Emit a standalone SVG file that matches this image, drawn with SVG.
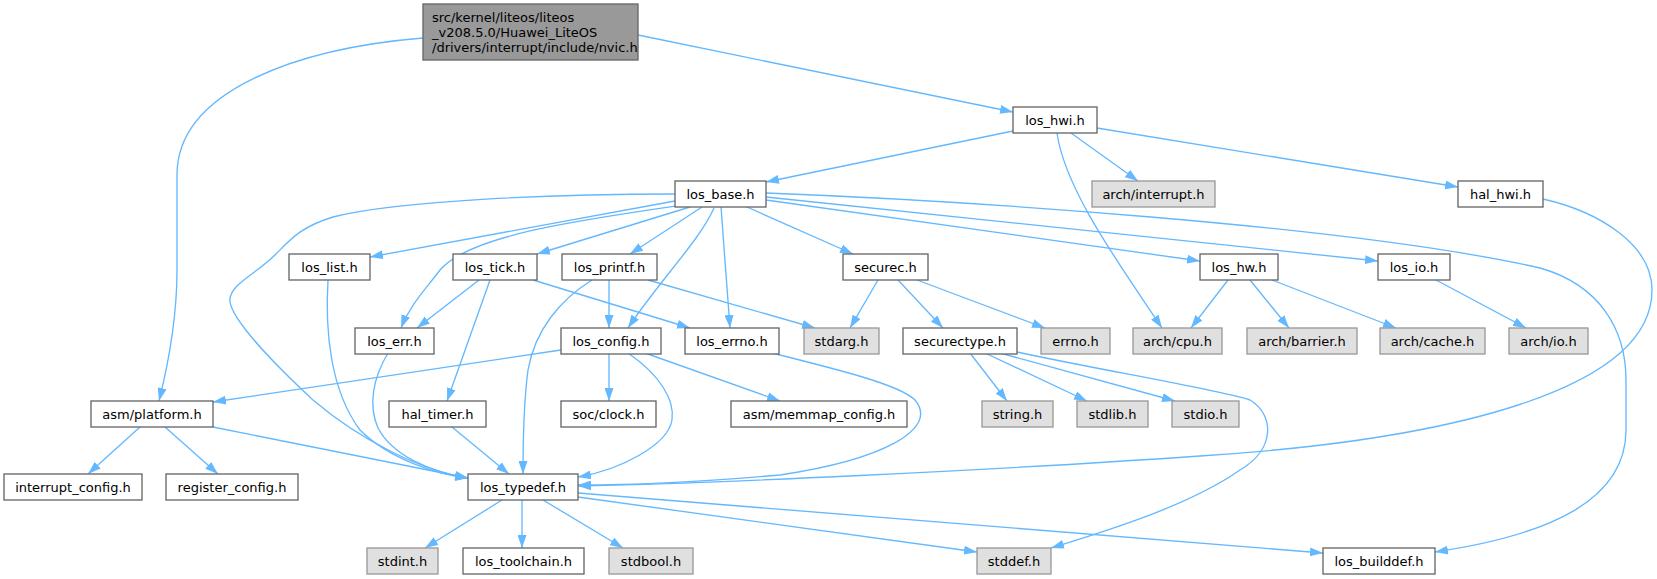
<svg xmlns="http://www.w3.org/2000/svg" width="1657" height="579" viewBox="0 0 1657 579">
<defs>
<marker id="ah" viewBox="0 0 13 9" refX="13" refY="4.5" markerWidth="13" markerHeight="9" markerUnits="userSpaceOnUse" orient="auto">
<path d="M0,0 L13,4.5 L0,9 z" fill="#63b8ff"/>
</marker>
<style>
.n rect{fill:#ffffff;stroke:#666666;stroke-width:1.33}
.g rect{fill:#e0e0e0;stroke:#999999;stroke-width:1.33}
.r rect{fill:#999999;stroke:#666666;stroke-width:1.33}
text{font-family:"DejaVu Sans","Liberation Sans",sans-serif;font-size:13px;fill:#000000}
.c{text-anchor:middle}
#edges path{fill:none;stroke:#63b8ff;stroke-width:1.33;marker-end:url(#ah)}
</style>
</defs>
<rect width="1657" height="579" fill="#ffffff"/>
<g id="edges">
<path d="M638,35 L1013,112"/>
<path d="M423,38 C300,48 177,90 177,175 L177,270 C177,320 168,365 159,401"/>
<path d="M1013,131 L766,182"/>
<path d="M1071,133 L1138,181"/>
<path d="M1097,128 L1458,187"/>
<path d="M1057,133 C1065,190 1120,265 1162,328"/>
<path d="M1543,199 C1600,212 1652,245 1652,290 C1652,390 1450,440 1200,456 C1000,470 700,484 578,486"/>
<path d="M675,201 L370,257"/>
<path d="M690,207 L537,254"/>
<path d="M683,205 C580,220 470,235 440,270 C425,290 410,305 401,328"/>
<path d="M702,207 L630,254"/>
<path d="M714,208 C700,240 660,280 628,328"/>
<path d="M721,207 L730,328"/>
<path d="M747,207 L853,254"/>
<path d="M766,200 L1200,261"/>
<path d="M766,197 L1378,261"/>
<path d="M766,193 C950,200 1350,225 1540,268 C1600,285 1626,330 1626,380 L1626,430 C1626,500 1550,535 1435,552"/>
<path d="M675,194 C560,194 400,200 333,217 C300,227 290,240 275,255 C255,275 228,285 230,302 C233,320 270,360 313,400 C360,440 420,470 468,478"/>
<path d="M328,280 C325,330 330,390 360,430 C390,460 440,475 468,478"/>
<path d="M388,353 C373,378 368,405 378,428 C392,455 430,472 468,478"/>
<path d="M213,427 L468,478"/>
<path d="M452,427 L509,474"/>
<path d="M592,280 C560,300 535,330 528,370 C524,400 523,430 523,474"/>
<path d="M628,353 C660,375 675,400 672,420 C668,445 620,470 578,477"/>
<path d="M772,353 C840,370 900,385 915,400 C940,430 880,460 780,475 C700,482 640,485 578,485"/>
<path d="M561,350 L213,402"/>
<path d="M609,353 L609,401"/>
<path d="M645,353 L780,401"/>
<path d="M609,280 L609,328"/>
<path d="M648,280 L815,328"/>
<path d="M479,280 L417,328"/>
<path d="M533,280 L690,328"/>
<path d="M490,280 L447,401"/>
<path d="M878,280 L850,328"/>
<path d="M898,280 L943,328"/>
<path d="M917,280 L1045,328"/>
<path d="M970,353 L1007,401"/>
<path d="M985,353 L1087,401"/>
<path d="M1000,353 L1175,401"/>
<path d="M1017,352 C1100,370 1220,390 1250,400 C1275,415 1275,450 1240,470 C1190,505 1110,530 1051,548"/>
<path d="M1228,280 L1191,328"/>
<path d="M1250,280 L1289,328"/>
<path d="M1272,280 L1396,328"/>
<path d="M1436,280 L1526,328"/>
<path d="M140,427 L88,474"/>
<path d="M165,427 L218,474"/>
<path d="M502,500 L425,548"/>
<path d="M522,500 L522,548"/>
<path d="M543,500 L623,548"/>
<path d="M578,497 L977,552"/>
<path d="M578,493 L1323,553"/>
</g>
<g id="node_root" class="r"><rect x="423" y="4" width="215" height="56"/><text x="432" y="22">src/kernel/liteos/liteos</text><text x="432" y="37">_v208.5.0/Huawei_LiteOS</text><text x="432" y="52">/drivers/interrupt/include/nvic.h</text></g>
<g id="node_los_hwi" class="n"><rect x="1013" y="107" width="84" height="26"/><text class="c" x="1055" y="124.5">los_hwi.h</text></g>
<g id="node_los_base" class="n"><rect x="675" y="181" width="91" height="26"/><text class="c" x="720.5" y="198.5">los_base.h</text></g>
<g id="node_arch_interrupt" class="g"><rect x="1092" y="181" width="123" height="26"/><text class="c" x="1153.5" y="198.5">arch/interrupt.h</text></g>
<g id="node_hal_hwi" class="n"><rect x="1458" y="181" width="85" height="26"/><text class="c" x="1500.5" y="198.5">hal_hwi.h</text></g>
<g id="node_los_list" class="n"><rect x="289" y="254" width="81" height="26"/><text class="c" x="329.5" y="271.5">los_list.h</text></g>
<g id="node_los_tick" class="n"><rect x="453" y="254" width="84" height="26"/><text class="c" x="495" y="271.5">los_tick.h</text></g>
<g id="node_los_printf" class="n"><rect x="562" y="254" width="95" height="26"/><text class="c" x="609.5" y="271.5">los_printf.h</text></g>
<g id="node_securec" class="n"><rect x="843" y="254" width="85" height="26"/><text class="c" x="885.5" y="271.5">securec.h</text></g>
<g id="node_los_hw" class="n"><rect x="1200" y="254" width="78" height="26"/><text class="c" x="1239" y="271.5">los_hw.h</text></g>
<g id="node_los_io" class="n"><rect x="1378" y="254" width="72" height="26"/><text class="c" x="1414" y="271.5">los_io.h</text></g>
<g id="node_los_err" class="n"><rect x="355" y="328" width="79" height="26"/><text class="c" x="394.5" y="345.5">los_err.h</text></g>
<g id="node_los_config" class="n"><rect x="561" y="328" width="100" height="26"/><text class="c" x="611" y="345.5">los_config.h</text></g>
<g id="node_los_errno" class="n"><rect x="685" y="328" width="94" height="26"/><text class="c" x="732" y="345.5">los_errno.h</text></g>
<g id="node_stdarg" class="g"><rect x="804" y="328" width="75" height="26"/><text class="c" x="841.5" y="345.5">stdarg.h</text></g>
<g id="node_securectype" class="n"><rect x="903" y="328" width="114" height="26"/><text class="c" x="960" y="345.5">securectype.h</text></g>
<g id="node_errno" class="g"><rect x="1041" y="328" width="69" height="26"/><text class="c" x="1075.5" y="345.5">errno.h</text></g>
<g id="node_arch_cpu" class="g"><rect x="1133" y="328" width="89" height="26"/><text class="c" x="1177.5" y="345.5">arch/cpu.h</text></g>
<g id="node_arch_barrier" class="g"><rect x="1247" y="328" width="110" height="26"/><text class="c" x="1302" y="345.5">arch/barrier.h</text></g>
<g id="node_arch_cache" class="g"><rect x="1380" y="328" width="105" height="26"/><text class="c" x="1432.5" y="345.5">arch/cache.h</text></g>
<g id="node_arch_io" class="g"><rect x="1509" y="328" width="79" height="26"/><text class="c" x="1548.5" y="345.5">arch/io.h</text></g>
<g id="node_asm_platform" class="n"><rect x="91" y="401" width="122" height="26"/><text class="c" x="152" y="418.5">asm/platform.h</text></g>
<g id="node_hal_timer" class="n"><rect x="389" y="401" width="97" height="26"/><text class="c" x="437.5" y="418.5">hal_timer.h</text></g>
<g id="node_soc_clock" class="n"><rect x="561" y="401" width="95" height="26"/><text class="c" x="608.5" y="418.5">soc/clock.h</text></g>
<g id="node_asm_memmap" class="n"><rect x="731" y="401" width="176" height="26"/><text class="c" x="819" y="418.5">asm/memmap_config.h</text></g>
<g id="node_string" class="g"><rect x="982" y="401" width="71" height="26"/><text class="c" x="1017.5" y="418.5">string.h</text></g>
<g id="node_stdlib" class="g"><rect x="1077" y="401" width="71" height="26"/><text class="c" x="1112.5" y="418.5">stdlib.h</text></g>
<g id="node_stdio" class="g"><rect x="1172" y="401" width="67" height="26"/><text class="c" x="1205.5" y="418.5">stdio.h</text></g>
<g id="node_interrupt_config" class="n"><rect x="4" y="474" width="138" height="26"/><text class="c" x="73" y="491.5">interrupt_config.h</text></g>
<g id="node_register_config" class="n"><rect x="166" y="474" width="132" height="26"/><text class="c" x="232" y="491.5">register_config.h</text></g>
<g id="node_los_typedef" class="n"><rect x="468" y="474" width="110" height="26"/><text class="c" x="523" y="491.5">los_typedef.h</text></g>
<g id="node_stdint" class="g"><rect x="367" y="548" width="71" height="26"/><text class="c" x="402.5" y="565.5">stdint.h</text></g>
<g id="node_los_toolchain" class="n"><rect x="463" y="548" width="121" height="26"/><text class="c" x="523.5" y="565.5">los_toolchain.h</text></g>
<g id="node_stdbool" class="g"><rect x="609" y="548" width="84" height="26"/><text class="c" x="651" y="565.5">stdbool.h</text></g>
<g id="node_stddef" class="g"><rect x="977" y="548" width="74" height="26"/><text class="c" x="1014" y="565.5">stddef.h</text></g>
<g id="node_los_builddef" class="n"><rect x="1323" y="548" width="112" height="26"/><text class="c" x="1379" y="565.5">los_builddef.h</text></g>
</svg>
